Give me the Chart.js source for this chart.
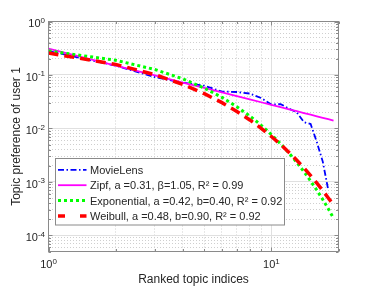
<!DOCTYPE html>
<html>
<head>
<meta charset="utf-8">
<script src="https://cdn.jsdelivr.net/npm/chart.js"></script>
<style>
  html, body { margin: 0; padding: 0; background: #fff; }
</style>
</head>
<body>
<canvas id="chart" width="374" height="290"></canvas>
<script>
// --- data ---
const ranks = [1, 2, 3, 4, 5, 6, 7, 8, 9, 10, 11, 12, 13, 14, 15, 16, 17, 18, 19];
const movieLens = [0.28, 0.15, 0.091, 0.072, 0.063, 0.049, 0.048, 0.045, 0.037, 0.028,
                   0.0285, 0.0235, 0.020, 0.0131, 0.0121, 0.0055, 0.0024, 0.0007];
const zipf = [0.31, 0.1497, 0.0978, 0.0723, 0.0572, 0.0472, 0.0402, 0.0349, 0.0309, 0.0276,
              0.0250, 0.0228, 0.0210, 0.0194, 0.0181, 0.01687, 0.01582, 0.0149, 0.01408];
const exponential = [0.2815, 0.1887, 0.1265, 0.0848, 0.0568, 0.0381, 0.0255, 0.0171, 0.01147, 0.00769,
                     0.00515, 0.00345, 0.00232, 0.00155, 0.00104, 0.000698, 0.000468, 0.000314, 0.00021];
const weibull = [0.257, 0.158, 0.1015, 0.0668, 0.0447, 0.0304, 0.0208, 0.01444, 0.01008, 0.00708,
                 0.00501, 0.00356, 0.00254, 0.00183, 0.00131, 0.00095, 0.00069, 0.000502, 0.00037];
const seriesNames = [
  'MovieLens',
  'Zipf, a =0.31, \u03b2=1.05, R\u00b2 = 0.99',
  'Exponential, a =0.42, b=0.40, R\u00b2 = 0.92',
  'Weibull, a =0.48, b=0.90, R\u00b2 = 0.92'
];
const xTicks = [1, 2, 3, 4, 5, 6, 7, 8, 9, 10, 20];
const xTickExps = [0, 1];
const yDecades = [-5, -4, -3, -2, -1];
const yTickExps = [0, -1, -2, -3, -4];
const xTitle = 'Ranked topic indices';
const yTitle = 'Topic preference of user 1';

const FONT = "'Liberation Sans', Arial, Helvetica, sans-serif";
const TEXT = '#262626';
const AXIS = '#8a8a8a';

const yTicks = [];
yDecades.forEach(e => {
  for (let m = 1; m <= 9; m++) {
    const v = m * Math.pow(10, e);
    if (v >= 5e-5) yTicks.push(v);
  }
});
yTicks.push(1);

function isDecade(v) {
  const l = Math.log10(v);
  return Math.abs(l - Math.round(l)) < 1e-6;
}

function pts(arr) {
  return arr.map((y, i) => ({ x: ranks[i], y: y }));
}

// "10" with a raised exponent, like the MATLAB tick labels
function powLabel(ctx, x, y, exp, align) {
  const base = '10', sup = String(exp);
  ctx.font = '11px ' + FONT;
  const wb = ctx.measureText(base).width;
  ctx.font = '8px ' + FONT;
  const ws = ctx.measureText(sup).width;
  const x0 = align === 'right' ? x - wb - ws : x - (wb + ws) / 2;
  ctx.textAlign = 'left';
  ctx.textBaseline = 'alphabetic';
  ctx.fillStyle = TEXT;
  ctx.font = '11px ' + FONT;
  ctx.fillText(base, x0, y);
  ctx.font = '8px ' + FONT;
  ctx.fillText(sup, x0 + wb, y - 4.3);
}

const matlabAxes = {
  id: 'matlabAxes',
  afterDraw(chart) {
    const ctx = chart.ctx;
    const a = chart.chartArea;
    const xs = chart.scales.x, ys = chart.scales.y;
    ctx.save();

    // box
    ctx.strokeStyle = AXIS;
    ctx.lineWidth = 1;
    ctx.setLineDash([]);
    ctx.strokeRect(a.left, a.top, a.right - a.left, a.bottom - a.top);

    // inward ticks on all four sides
    ctx.beginPath();
    xTicks.forEach(v => {
      const px = Math.round(xs.getPixelForValue(v)) + 0.5;
      const len = isDecade(v) ? 4 : 2.5;
      ctx.moveTo(px, a.bottom); ctx.lineTo(px, a.bottom - len);
      ctx.moveTo(px, a.top); ctx.lineTo(px, a.top + len);
    });
    yTicks.forEach(v => {
      const py = Math.round(ys.getPixelForValue(v)) + 0.5;
      const len = isDecade(v) ? 4 : 2.5;
      ctx.moveTo(a.left, py); ctx.lineTo(a.left + len, py);
      ctx.moveTo(a.right, py); ctx.lineTo(a.right - len, py);
    });
    ctx.stroke();

    // tick labels
    xTickExps.forEach(e => {
      powLabel(ctx, xs.getPixelForValue(Math.pow(10, e)), a.bottom + 16.8, e, 'center');
    });
    yTickExps.forEach(e => {
      powLabel(ctx, a.left - 3.5, ys.getPixelForValue(Math.pow(10, e)) + 5.6, e, 'right');
    });

    // axis titles
    ctx.fillStyle = TEXT;
    ctx.font = '12px ' + FONT;
    ctx.textAlign = 'center';
    ctx.textBaseline = 'alphabetic';
    ctx.fillText(xTitle, (a.left + a.right) / 2, 283);
    ctx.save();
    ctx.translate(20, (a.top + a.bottom) / 2);
    ctx.rotate(-Math.PI / 2);
    ctx.fillText(yTitle, 0, 0);
    ctx.restore();

    // legend
    const bx = 55.5, by = 158.5, bw = 229, bh = 66.5;
    ctx.fillStyle = '#fff';
    ctx.fillRect(bx, by, bw, bh);
    ctx.strokeStyle = AXIS;
    ctx.lineWidth = 1;
    ctx.strokeRect(bx, by, bw, bh);
    chart.data.datasets.forEach((ds, i) => {
      const cy = 169.8 + i * 15.4;
      ctx.beginPath();
      ctx.strokeStyle = ds.borderColor;
      ctx.lineWidth = ds.borderWidth;
      ctx.setLineDash(ds.legendDash || ds.borderDash || []);
      ctx.lineDashOffset = 0;
      ctx.moveTo(58, cy);
      ctx.lineTo(86.5, cy);
      ctx.stroke();
      ctx.setLineDash([]);
      ctx.fillStyle = TEXT;
      ctx.font = '11px ' + FONT;
      ctx.textAlign = 'left';
      ctx.fillText(seriesNames[i], 90, cy + 4);
    });

    ctx.restore();
  }
};

const gridStyle = {
  color: c => (c.tick && isDecade(c.tick.value)) ? '#e0e0e0' : '#cfcfcf',
  lineWidth: 1,
  drawTicks: false
};
const gridBorder = {
  display: false,
  dash: c => (c.tick && isDecade(c.tick.value)) ? [] : [1, 2]
};

new Chart(document.getElementById('chart').getContext('2d'), {
  type: 'line',
  data: {
    datasets: [
      { label: seriesNames[0], data: pts(movieLens), borderColor: '#0000ff', borderWidth: 1.8,
        borderDash: [6, 2.5, 1.5, 2.5], order: 4 },
      { label: seriesNames[1], data: pts(zipf), borderColor: '#ff00ff', borderWidth: 1.8,
        borderDash: [], order: 3 },
      { label: seriesNames[2], data: pts(exponential), borderColor: '#00ff00', borderWidth: 3,
        borderDash: [3, 3], order: 2 },
      { label: seriesNames[3], data: pts(weibull), borderColor: '#ff0000', borderWidth: 3.5,
        borderDash: [10, 6], legendDash: [7, 15], order: 1 }
    ]
  },
  options: {
    responsive: false,
    animation: false,
    devicePixelRatio: 1,
    parsing: true,
    elements: { point: { radius: 0 }, line: { tension: 0, fill: false, borderCapStyle: 'butt' } },
    layout: { padding: { left: 0, top: 21.5, right: 35.5, bottom: 0 } },
    plugins: { legend: { display: false }, tooltip: { enabled: false } },
    scales: {
      x: {
        type: 'logarithmic', min: 1, max: 20,
        afterBuildTicks: s => { s.ticks = xTicks.map(v => ({ value: v, major: isDecade(v) })); },
        afterFit: s => { s.height = 38.5; },
        ticks: { display: false },
        grid: gridStyle,
        border: gridBorder
      },
      y: {
        type: 'logarithmic', min: 5e-5, max: 1,
        afterBuildTicks: s => { s.ticks = yTicks.map(v => ({ value: v, major: isDecade(v) })); },
        afterFit: s => { s.width = 48.5; },
        ticks: { display: false },
        grid: gridStyle,
        border: gridBorder
      }
    }
  },
  plugins: [matlabAxes]
});
</script>
</body>
</html>
